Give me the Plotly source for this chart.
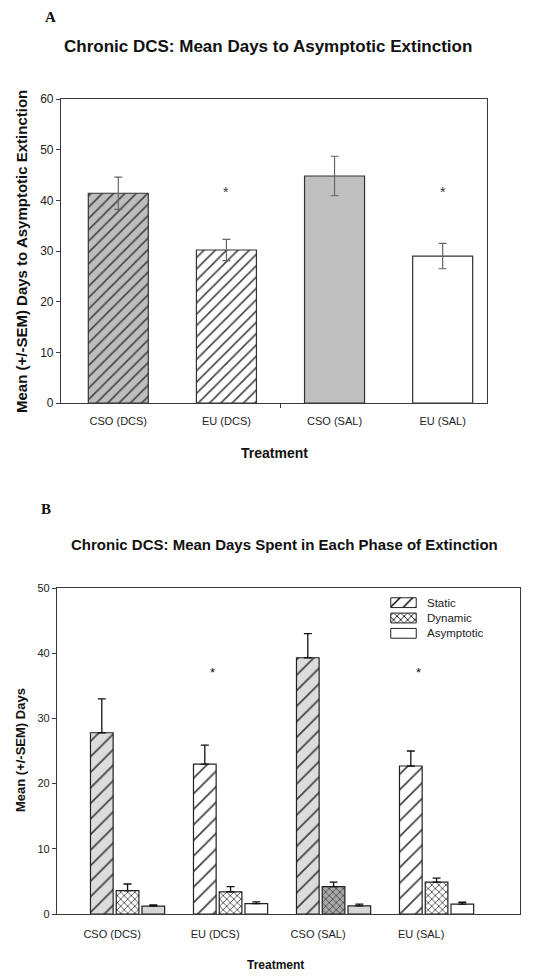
import plotly.graph_objects as go

# ---------------- data ----------------
groups = ["CSO (DCS)", "EU (DCS)", "CSO (SAL)", "EU (SAL)"]

# Panel A: mean days to asymptotic extinction
a_mean = [41.4, 30.2, 44.8, 29.0]
a_sem = [3.2, 2.1, 3.9, 2.5]
a_sig = ["", "*", "", "*"]

# Panel B: mean days per phase
phases = ["Static", "Dynamic", "Asymptotic"]
b_static = [27.8, 23.0, 39.3, 22.7]
b_static_sem = [5.2, 2.9, 3.7, 2.3]
b_dynamic = [3.6, 3.4, 4.2, 4.9]
b_dynamic_sem = [1.0, 0.8, 0.7, 0.6]
b_asym = [1.2, 1.6, 1.25, 1.5]
b_asym_sem = [0.2, 0.25, 0.25, 0.3]
b_sig = ["", "*", "", "*"]

FONT = "Arial, Liberation Sans, sans-serif"
SERIF = "Times New Roman, Liberation Serif, serif"
AX = "#3a3a3a"
W, H = 534, 980

def px(x):
    return x / W

def py(y):
    return 1 - y / H

idx = list(range(len(groups)))

fig = go.Figure()

# ---------------- Panel A ----------------
a_colors = ["#bdbdbd", "#ffffff", "#c0c0c0", "#ffffff"]
a_shapes = ["/", "/", "", ""]
fig.add_trace(go.Bar(
    x=idx, y=a_mean, width=0.555,
    marker=dict(color=a_colors, line=dict(color="#333333", width=1.2),
                pattern=dict(shape=a_shapes, fillmode="overlay", fgcolor="#000000",
                             fgopacity=1, size=8, solidity=0.2)),
    error_y=dict(type="data", array=a_sem, symmetric=True, color="#666666",
                 thickness=1.2, width=4),
    showlegend=False, xaxis="x", yaxis="y",
))

# ---------------- Panel B ----------------
b_styles = {
    "Static": (["#dcdcdc", "#ffffff", "#dcdcdc", "#ffffff"], "/", 11, 0.16),
    "Dynamic": (["#ffffff", "#ffffff", "#a8a8a8", "#ffffff"], "x", 5, 0.3),
    "Asymptotic": (["#d6d6d6", "#ffffff", "#d6d6d6", "#ffffff"], "", 8, 0.2),
}
b_vals = {"Static": (b_static, b_static_sem),
          "Dynamic": (b_dynamic, b_dynamic_sem),
          "Asymptotic": (b_asym, b_asym_sem)}

for name in phases:
    vals, sems = b_vals[name]
    colors, shape, size, sol = b_styles[name]
    fig.add_trace(go.Bar(
        x=idx, y=vals, name=name, offsetgroup=name,
        marker=dict(color=colors, line=dict(color="#222222", width=1.2),
                    pattern=dict(shape=shape, fillmode="overlay", fgcolor="#000000",
                                 fgopacity=1, size=size, solidity=sol)),
        error_y=dict(type="data", array=sems, arrayminus=[0] * len(sems), symmetric=False,
                     color="#111111", thickness=1.3, width=4),
        showlegend=False, xaxis="x2", yaxis="y2",
    ))

# legend keys drawn as swatches in a small hidden axis (white, as in the original)
leg_shapes = ["/", "x", ""]
leg_sizes = [9, 5, 8]
leg_sol = [0.16, 0.3, 0.2]
for k, name in enumerate(phases):
    fig.add_trace(go.Bar(
        x=[1], y=[k], orientation="h", width=0.64, showlegend=False,
        marker=dict(color="#ffffff", line=dict(color="#222222", width=1),
                    pattern=dict(shape=leg_shapes[k], fillmode="overlay", fgcolor="#000000",
                                 fgopacity=1, size=leg_sizes[k], solidity=leg_sol[k])),
        xaxis="x3", yaxis="y3", hoverinfo="skip",
    ))
    fig.add_annotation(x=1.3, y=k, xref="x3 domain", yref="y3", text=name, showarrow=False,
                       xanchor="left", yanchor="middle",
                       font=dict(family=FONT, size=11.5, color="#222222"))

# significance stars
for i, s in enumerate(a_sig):
    if s:
        fig.add_annotation(x=i, y=41.6, xref="x", yref="y", text=s, showarrow=False,
                           yanchor="middle", font=dict(family=FONT, size=14, color="#333333"))
for i, s in enumerate(b_sig):
    if s:
        fig.add_annotation(x=i - 0.18, y=37.0, xref="x2", yref="y2", text=s, showarrow=False,
                           yanchor="middle", font=dict(family=FONT, size=13, color="#111111"))

# panel letters, titles, axis titles
def note(x, y, text, size, family=FONT, angle=0):
    fig.add_annotation(x=px(x), y=py(y), xref="paper", yref="paper", text=text,
                       showarrow=False, xanchor="center", yanchor="middle", textangle=angle,
                       font=dict(family=family, size=size, color="#111111"))

note(50, 17, "<b>A</b>", 15, SERIF)
note(268, 46, "<b>Chronic DCS: Mean Days to Asymptotic Extinction</b>", 17)
note(22, 252, "<b>Mean (+/-SEM) Days to Asymptotic Extinction</b>", 15, angle=-90)
note(274, 453, "<b>Treatment</b>", 14)

note(46, 509, "<b>B</b>", 15, SERIF)
note(284, 544, "<b>Chronic DCS: Mean Days Spent in Each Phase of Extinction</b>", 15)
note(20, 750, "<b>Mean (+/-SEM) Days</b>", 13, angle=-90)
note(275, 965, "<b>Treatment</b>", 12)

axis_common = dict(showline=True, linecolor=AX, linewidth=1.2, mirror=True,
                   showgrid=False, zeroline=False, automargin=False,
                   tickfont=dict(family=FONT, size=11, color="#222222"))

fig.update_layout(
    width=W, height=H,
    margin=dict(l=0, r=0, t=0, b=0, autoexpand=False),
    paper_bgcolor="white", plot_bgcolor="white",
    barmode="group", bargap=0.25, bargroupgap=0.12,
    font=dict(family=FONT, color="#111111"),
    showlegend=False,
    xaxis=dict(domain=[px(61), px(487)], anchor="y", range=[-0.53, 3.41],
               tickvals=idx, ticktext=groups, ticks="", ticklabelstandoff=8,
               minor=dict(tickvals=[1.5], ticks="outside", ticklen=4, tickcolor=AX),
               **axis_common),
    yaxis=dict(domain=[py(403), py(99)], anchor="x", range=[0, 60], dtick=10,
               ticks="outside", ticklen=4, tickcolor=AX,
               **{**axis_common, "tickfont": dict(family=FONT, size=12, color="#222222")}),
    xaxis2=dict(domain=[px(57), px(520)], anchor="y2", range=[-0.685, 3.81],
                tickvals=[i - 0.15 for i in idx], ticktext=groups, ticks="",
                ticklabelstandoff=10, **axis_common),
    yaxis2=dict(domain=[py(914), py(588)], anchor="x2", range=[0, 50], dtick=10,
                ticks="outside", ticklen=4, tickcolor=AX, **axis_common),
    xaxis3=dict(domain=[px(390), px(417)], anchor="y3", range=[-0.03, 1.03],
                visible=False, automargin=False, fixedrange=True),
    yaxis3=dict(domain=[py(641), py(595)], anchor="x3", range=[2.5, -0.5],
                visible=False, automargin=False, fixedrange=True),
)

fig.write_html("out.html", config={"displayModeBar": False},
               post_script="document.body.style.margin='0px';")
